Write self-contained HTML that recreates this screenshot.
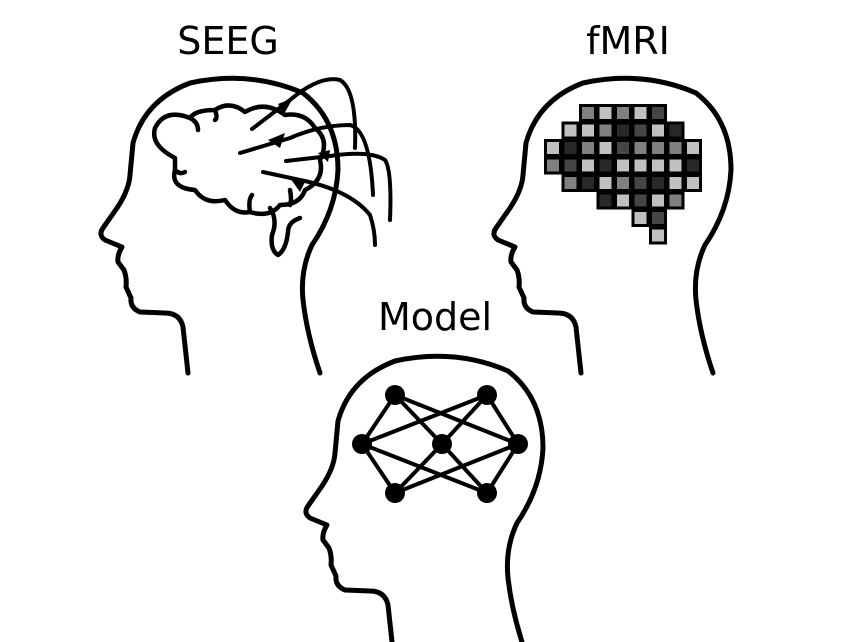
<!DOCTYPE html>
<html><head><meta charset="utf-8"><style>
html,body{margin:0;padding:0;background:#fff;}
svg{display:block;}
text{font-family:"DejaVu Sans","Liberation Sans",sans-serif;font-size:38px;fill:#000;}
.L{fill:#c0c0c0}.M{fill:#808080}.D{fill:#454545}.V{fill:#282828}
.cells rect{width:12px;height:12px;}
</style></head><body>
<svg width="856" height="642" viewBox="0 0 856 642" xmlns="http://www.w3.org/2000/svg">
<defs>
<path id="head" d="M188,373 L183,327 Q180,313 165,313 L140,312 Q130,308 131,298 L126,287 Q127,278 124,270 L118,262 Q117,255 122,247 L105,240 Q98,235 103,228 L117,208 Q129,190 130,175 L133,143 Q145,100 190,83 Q250,70 303,93 Q338,120 338,170 Q336,210 312,245 Q300,270 303,300 Q307,335 320,373" fill="none" stroke="#000" stroke-width="5" stroke-linecap="round" stroke-linejoin="round"/>
</defs>
<text x="228" y="54" text-anchor="middle">SEEG</text>
<text x="628" y="54" text-anchor="middle">fMRI</text>
<text x="435" y="330" text-anchor="middle">Model</text>

<use href="#head"/>
<use href="#head" transform="translate(393,0)"/>
<use href="#head" transform="translate(205,278)"/>

<!-- brain -->
<g fill="none" stroke="#000" stroke-width="4.5" stroke-linecap="round" stroke-linejoin="round">
<path d="M175,158 Q150,145 155,128 Q165,108 190,118 Q195,110 215,110 Q230,100 245,112 Q265,100 285,115 Q305,112 315,128 Q330,140 320,160 Q325,180 305,190 Q300,205 280,205 Q270,218 250,212 Q235,215 225,200 Q205,205 195,190 Q170,188 175,170 Z"/>
<path d="M270,208 Q278,220 272,235 Q270,250 278,255 Q286,250 288,232 Q288,222 300,218"/>
<path d="M190,118 Q198,122 198,130"/>
<path d="M175,170 Q180,175 185,172"/>
<path d="M250,212 Q248,200 252,195"/>
<path d="M290,190 Q292,200 290,205"/>
<path d="M215,110 Q218,118 215,120"/>
</g>
<!-- electrodes -->
<g fill="none" stroke="#000" stroke-width="4" stroke-linecap="round">
<path d="M252,129 L290,100 Q320,75 340,80 Q357,90 355,148"/>
<path d="M240,153 L290,138 Q320,125 350,125 Q370,130 373,195"/>
<path d="M286,161 L330,156 Q370,150 385,160 Q392,170 390,220"/>
<path d="M263,172 L300,180 Q350,190 370,215 Q375,230 375,245"/>
</g>
<g fill="#000">
<polygon points="278,104 293,98 284,114"/>
<polygon points="268,140 285,133 280,148"/>
<polygon points="318,153 330,150 328,162"/>
<polygon points="290,178 305,182 300,192"/>
</g>

<!-- fMRI grid -->
<g fill="#000">
<rect x="579" y="104" width="88" height="18"/>
<rect x="561.5" y="121.5" width="123" height="18"/>
<rect x="544" y="139" width="158" height="18"/>
<rect x="544" y="156.5" width="158" height="18"/>
<rect x="561.5" y="174" width="140.5" height="18"/>
<rect x="596.5" y="191.5" width="88" height="18"/>
<rect x="631.5" y="209" width="35.5" height="18"/>
<rect x="649" y="226.5" width="18" height="18"/>
</g>
<g class="cells" transform="translate(-1,-1)">
<rect class="M" x="583" y="108"/><rect class="L" x="600.5" y="108"/><rect class="M" x="618" y="108"/><rect class="L" x="635.5" y="108"/><rect class="D" x="653" y="108"/>
<rect class="L" x="565.5" y="125.5"/><rect class="L" x="583" y="125.5"/><rect class="M" x="600.5" y="125.5"/><rect class="V" x="618" y="125.5"/><rect class="D" x="635.5" y="125.5"/><rect class="L" x="653" y="125.5"/><rect class="V" x="670.5" y="125.5"/>
<rect class="L" x="548" y="143"/><rect class="V" x="565.5" y="143"/><rect class="M" x="583" y="143"/><rect class="L" x="600.5" y="143"/><rect class="D" x="618" y="143"/><rect class="M" x="635.5" y="143"/><rect class="M" x="653" y="143"/><rect class="M" x="670.5" y="143"/><rect class="L" x="688" y="143"/>
<rect class="M" x="548" y="160.5"/><rect class="D" x="565.5" y="160.5"/><rect class="L" x="583" y="160.5"/><rect class="V" x="600.5" y="160.5"/><rect class="L" x="618" y="160.5"/><rect class="L" x="635.5" y="160.5"/><rect class="L" x="653" y="160.5"/><rect class="L" x="670.5" y="160.5"/><rect class="V" x="688" y="160.5"/>
<rect class="M" x="565.5" y="178"/><rect class="V" x="583" y="178"/><rect class="L" x="600.5" y="178"/><rect class="M" x="618" y="178"/><rect class="D" x="635.5" y="178"/><rect class="V" x="653" y="178"/><rect class="L" x="670.5" y="178"/><rect class="L" x="688" y="178"/>
<rect class="V" x="600.5" y="195.5"/><rect class="L" x="618" y="195.5"/><rect class="D" x="635.5" y="195.5"/><rect class="L" x="653" y="195.5"/><rect class="M" x="670.5" y="195.5"/>
<rect class="L" x="635.5" y="213"/><rect class="D" x="653" y="213"/>
<rect class="L" x="653" y="230.5"/>
</g>

<!-- network -->
<g stroke="#000" stroke-width="4">
<line x1="395" y1="395" x2="362" y2="444"/><line x1="395" y1="395" x2="442" y2="444"/><line x1="395" y1="395" x2="518" y2="444"/>
<line x1="487" y1="395" x2="362" y2="444"/><line x1="487" y1="395" x2="442" y2="444"/><line x1="487" y1="395" x2="518" y2="444"/>
<line x1="362" y1="444" x2="395" y2="493"/><line x1="362" y1="444" x2="487" y2="493"/>
<line x1="442" y1="444" x2="395" y2="493"/><line x1="442" y1="444" x2="487" y2="493"/>
<line x1="518" y1="444" x2="395" y2="493"/><line x1="518" y1="444" x2="487" y2="493"/>
</g>
<g fill="#000">
<circle cx="395" cy="395" r="10"/><circle cx="487" cy="395" r="10"/>
<circle cx="362" cy="444" r="10"/><circle cx="442" cy="444" r="10"/><circle cx="518" cy="444" r="10"/>
<circle cx="395" cy="493" r="10"/><circle cx="487" cy="493" r="10"/>
</g>
</svg>
</body></html>
